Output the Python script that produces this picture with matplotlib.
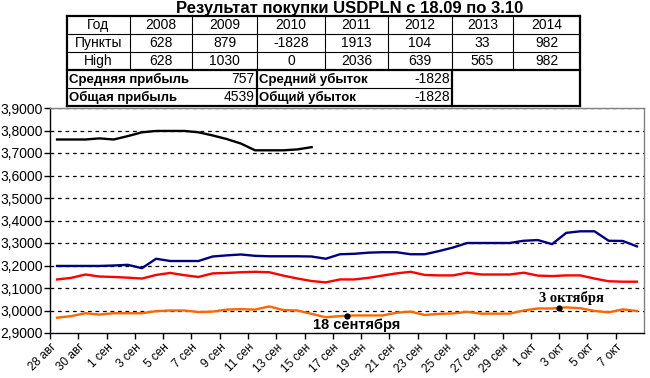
import numpy as np
import matplotlib
matplotlib.use("Agg")
import matplotlib.pyplot as plt
from matplotlib.lines import Line2D
from matplotlib.patches import Rectangle

plt.rcParams['font.family'] = ['Liberation Sans', 'DejaVu Sans']

# ---------------- data ----------------
title = "Результат покупки USDPLN с 18.09 по 3.10"
years = ["2008", "2009", "2010", "2011", "2012", "2013", "2014"]
points = ["628", "879", "-1828", "1913", "104", "33", "982"]
highs = ["628", "1030", "0", "2036", "639", "565", "982"]
avg_profit = "757"
total_profit = "4539"
avg_loss = "-1828"
total_loss = "-1828"

x_labels = ["28 авг", "30 авг", "1 сен", "3 сен", "5 сен", "7 сен", "9 сен",
            "11 сен", "13 сен", "15 сен", "17 сен", "19 сен", "21 сен", "23 сен",
            "25 сен", "27 сен", "29 сен", "1 окт", "3 окт", "5 окт", "7 окт"]

s_black = [3.760, 3.760, 3.760, 3.765, 3.760, 3.775, 3.792, 3.798, 3.798, 3.798,
           3.792, 3.778, 3.762, 3.742, 3.712, 3.712, 3.712, 3.716, 3.726]
s_blue = [3.198, 3.198, 3.198, 3.198, 3.200, 3.203, 3.188, 3.230, 3.220, 3.220,
          3.220, 3.240, 3.245, 3.249, 3.243, 3.241, 3.241, 3.241, 3.240, 3.230,
          3.250, 3.252, 3.257, 3.259, 3.259, 3.250, 3.250, 3.264, 3.280, 3.300,
          3.300, 3.300, 3.300, 3.310, 3.313, 3.295, 3.345, 3.352, 3.352, 3.310,
          3.309, 3.285]
s_red = [3.138, 3.145, 3.160, 3.151, 3.149, 3.146, 3.142, 3.158, 3.167, 3.157,
         3.149, 3.165, 3.167, 3.170, 3.172, 3.170, 3.155, 3.142, 3.131, 3.125,
         3.138, 3.138, 3.145, 3.155, 3.165, 3.172, 3.158, 3.156, 3.156, 3.168,
         3.160, 3.160, 3.160, 3.168, 3.155, 3.153, 3.156, 3.156, 3.142, 3.130,
         3.128, 3.128]
s_orange = [2.968, 2.975, 2.988, 2.982, 2.988, 2.988, 2.988, 2.997, 3.000, 3.000,
            2.993, 2.995, 3.004, 3.006, 3.004, 3.018, 3.002, 3.000, 2.985, 2.970,
            2.975, 2.978, 2.978, 2.978, 2.990, 2.995, 2.980, 2.985, 2.987, 2.994,
            2.986, 2.986, 2.986, 3.000, 3.009, 3.009, 3.014, 3.010, 2.998, 2.992,
            3.005, 2.998]

ann_days = [21, 36]          # 18 Sep, 3 Oct (days after 28 Aug)
ann_texts = ["18 сентября", "3 октября"]

# ---------------- figure ----------------
W, H = 650, 378
fig = plt.figure(figsize=(W / 100, H / 100), dpi=100)
fig.patch.set_facecolor('white')

def fx(px):
    return px / W

def fy(py):
    return 1 - py / H

ax_l, ax_r, ax_t, ax_b = 50, 644, 108, 333
ax = fig.add_axes([fx(ax_l), fy(ax_b), fx(ax_r - ax_l), (ax_b - ax_t) / H])

def days(series):
    return np.arange(len(series)) + 0.5

ax.plot(days(s_black), s_black, color='black', lw=1.7)
ax.plot(days(s_blue), s_blue, color='#000080', lw=1.7)
ax.plot(days(s_red), s_red, color='#FF0000', lw=1.7)
ax.plot(days(s_orange), s_orange, color='#FF6600', lw=1.7)

ax.set_xlim(0, 42)
ax.set_ylim(2.9, 3.9)
yt = np.round(np.arange(2.9, 3.9001, 0.1), 1)
ax.set_yticks(yt)
ax.set_yticklabels([f"{v:.4f}".replace('.', ',') for v in yt], fontsize=10)
for v in yt[1:]:
    ax.axhline(v, color='black', lw=0.9, ls=(0, (3, 3)), zorder=0)

xt = np.arange(0, 42, 2)
ax.set_xticks(xt)
ax.set_xticklabels(x_labels, rotation=45, ha='right', va='top',
                   rotation_mode='anchor', fontsize=8.5)
ax.tick_params(axis='x', length=4, width=1, pad=2)
ax.tick_params(axis='y', length=4, width=1, pad=1)

for s in ['top', 'right']:
    ax.spines[s].set_color('#808080')
    ax.spines[s].set_linewidth(1)
for s in ['left', 'bottom']:
    ax.spines[s].set_color('black')
    ax.spines[s].set_linewidth(1)

# annotations
xo = days(s_orange)
for d, t, fam, dx, dy in zip(ann_days, ann_texts,
                             [['Liberation Sans'], ['Liberation Serif']],
                             [0.7, 0.9], [-0.040, 0.045]):
    yv = np.interp(d, xo, s_orange)
    ax.plot([d], [yv], 'o', color='black', ms=3.5, zorder=5)
    ax.text(d + dx, yv + dy, t, fontsize=10.5, fontweight='bold',
            family=fam, ha='center', va='center', zorder=6)

# ---------------- table ----------------
fig.text(fx(350), fy(8.5), title, fontsize=12, fontweight='bold',
         ha='center', va='center')

cols = [67, 130, 192, 257, 325, 388, 452, 513, 580]
rows = [16, 34, 52, 70, 88, 106]

fig.add_artist(Rectangle((fx(cols[0]), fy(rows[-1])), fx(cols[-1] - cols[0]),
                         (rows[-1] - rows[0]) / H, transform=fig.transFigure,
                         facecolor='white', edgecolor='none', zorder=1))

def hline(y, x0, x1, lw):
    fig.add_artist(Line2D([fx(x0), fx(x1)], [fy(y), fy(y)], color='black',
                          lw=lw, transform=fig.transFigure, zorder=3,
                          solid_capstyle='projecting'))

def vline(x, y0, y1, lw):
    fig.add_artist(Line2D([fx(x), fx(x)], [fy(y0), fy(y1)], color='black',
                          lw=lw, transform=fig.transFigure, zorder=3,
                          solid_capstyle='projecting'))

thin, thick = 0.8, 1.6
# top block
hline(rows[0], cols[0], cols[-1], thick)
hline(rows[1], cols[0], cols[-1], thin)
hline(rows[2], cols[0], cols[-1], thin)
hline(rows[3], cols[0], cols[-1], thick)
for c in cols[1:-1]:
    vline(c, rows[0], rows[3], thin)
vline(cols[0], rows[0], rows[-1], thick)
vline(cols[-1], rows[0], rows[-1], thick)
# lower block
hline(rows[4], cols[0], cols[6], thin)
hline(rows[5], cols[0], cols[-1], thick)
vline(cols[3], rows[3], rows[5], thick)
vline(cols[6], rows[3], rows[5], thick)

def cell_center(ci, ri):
    return fx((cols[ci] + cols[ci + 1]) / 2), fy((rows[ri] + rows[ri + 1]) / 2)

top_rows = [["Год"] + years, ["Пункты"] + points, ["High"] + highs]
for ri, rv in enumerate(top_rows):
    for ci, t in enumerate(rv):
        x, y = cell_center(ci, ri)
        fig.text(x, y, t, fontsize=10, ha='center', va='center', zorder=4)

low = [("Средняя прибыль", avg_profit, "Средний убыток", avg_loss),
       ("Общая прибыль", total_profit, "Общий убыток", total_loss)]
for k, (a, b, c, d) in enumerate(low):
    ri = 3 + k
    yc = fy((rows[ri] + rows[ri + 1]) / 2)
    fig.text(fx(cols[0] + 2), yc, a, fontsize=9.5, fontweight='bold',
             ha='left', va='center', zorder=4)
    fig.text(fx(cols[3] - 2), yc, b, fontsize=10, ha='right', va='center', zorder=4)
    fig.text(fx(cols[3] + 2), yc, c, fontsize=9.5, fontweight='bold',
             ha='left', va='center', zorder=4)
    fig.text(fx(cols[6] - 2), yc, d, fontsize=10, ha='right', va='center', zorder=4)

fig.savefig("out.png", dpi=100, facecolor='white')
